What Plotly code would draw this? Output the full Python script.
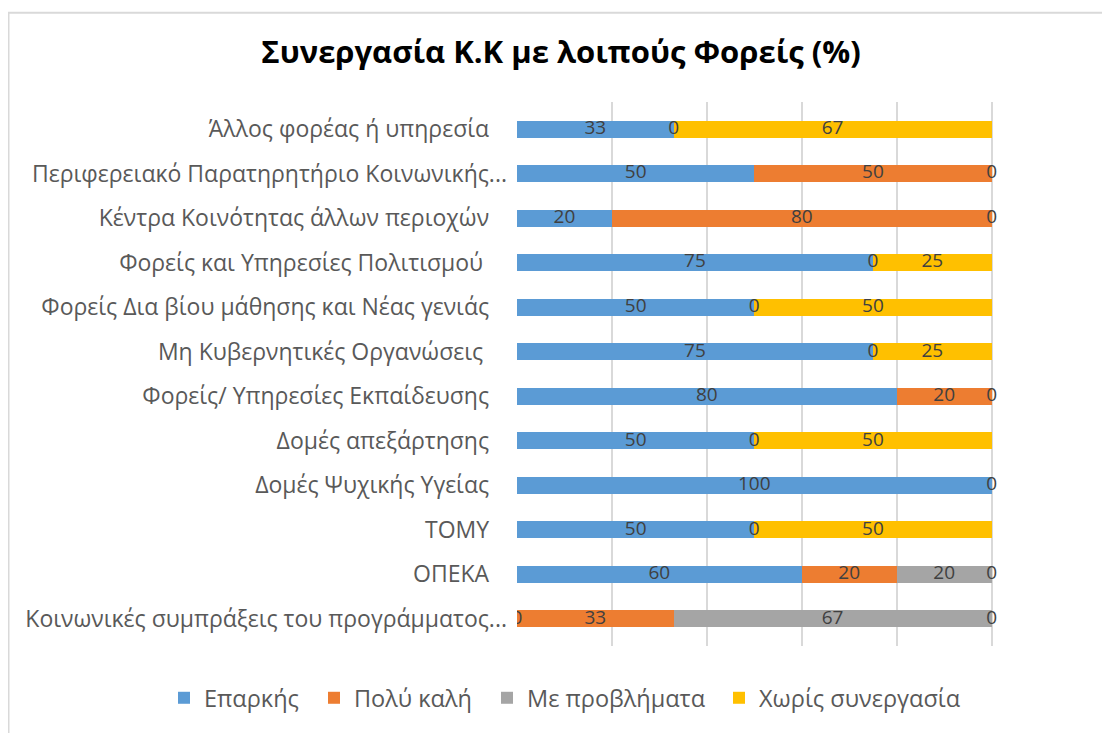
import plotly.graph_objects as go

categories = [
    "Άλλος φορέας ή υπηρεσία",
    "Περιφερειακό Παρατηρητήριο Κοινωνικής...",
    "Κέντρα Κοινότητας άλλων περιοχών",
    "Φορείς και Υπηρεσίες Πολιτισμού ",
    "Φορείς Δια βίου μάθησης και Νέας γενιάς",
    "Μη Κυβερνητικές Οργανώσεις ",
    "Φορείς/ Υπηρεσίες Εκπαίδευσης",
    "Δομές απεξάρτησης",
    "Δομές Ψυχικής Υγείας",
    "ΤΟΜΥ",
    "ΟΠΕΚΑ",
    "Κοινωνικές συμπράξεις του προγράμματος...",
]

series_names = ["Επαρκής", "Πολύ καλή", "Με προβλήματα", "Χωρίς συνεργασία"]
eparkis = [33, 50, 20, 75, 50, 75, 80, 50, 100, 50, 60, 0]
poly_kali = [0, 50, 80, 0, 0, 0, 20, 0, None, 0, 20, 33]
me_provlimata = [None, None, None, None, None, None, None, None, None, None, 20, 67]
xoris = [67, 0, 0, 25, 50, 25, 0, 50, 0, 50, 0, 0]
colors = ["#5B9BD5", "#ED7D31", "#A5A5A5", "#FFC000"]

series = [eparkis, poly_kali, me_provlimata, xoris]

# Excel lets truncated labels ("...") run further right than full ones;
# pad the full labels with non-breaking spaces to mimic that.
tick_text = []
for c in categories:
    if c.endswith("..."):
        tick_text.append(c)
    else:
        t = c.rstrip(" ")
        extra = len(c) - len(t)
        tick_text.append(t + "\u00a0" * (3 + extra))

# page is offset by the browser's default 8px body margin
OFF = 8
W, H = 1110 - OFF, 733 - OFF

legend_ids = ["legend", "legend2", "legend3", "legend4"]
legend_square_px = [178, 328, 501, 733]  # left edge of each legend square in the page

fig = go.Figure()
for name, vals, col, lid in zip(series_names, series, colors, legend_ids):
    fig.add_trace(go.Bar(
        y=categories, x=vals, name=name, orientation="h",
        marker=dict(color=col, line=dict(width=0)), width=0.39,
        hoverinfo="x+name", legend=lid,
    ))

# data labels (including zero-valued segments) at segment centres
lx, ly, lt = [], [], []
for i, cat in enumerate(categories):
    start = 0
    for vals in series:
        v = vals[i]
        if v is None:
            continue
        lx.append(start + v / 2)
        ly.append(cat)
        lt.append(str(v))
        start += v
fig.add_trace(go.Scatter(
    x=lx, y=ly, text=lt, mode="text", showlegend=False, hoverinfo="skip",
    textfont=dict(family="Open Sans", size=19, color="#404040"),
    textposition="middle center",
))

ml, mr, mt, mb = 517 - OFF, 1110 - 1087, 101.5 - OFF, 733 - 646.5
pw, ph = W - ml - mr, H - mt - mb

legend_common = dict(orientation="h", xref="container", yref="container",
                     xanchor="left", yanchor="middle", y=1 - (698 - OFF) / H,
                     font=dict(family="Open Sans", size=23.5, color="#595959"),
                     itemwidth=30, bgcolor="rgba(0,0,0,0)")
legends = {}
for lid, sx in zip(legend_ids, legend_square_px):
    legends[lid] = dict(legend_common, x=(sx - OFF - 14) / W)

fig.update_layout(
    barmode="stack",
    width=W, height=H,
    margin=dict(l=ml, r=mr, t=mt, b=mb, autoexpand=False),
    paper_bgcolor="white", plot_bgcolor="white",
    title=dict(text="<b>Συνεργασία Κ.Κ με λοιπούς Φορείς (%)</b>",
               x=(561 - OFF) / W, xanchor="center",
               y=1 - (52 - OFF) / H, yanchor="middle",
               xref="container", yref="container",
               font=dict(family="Open Sans", size=31, color="#000000")),
    xaxis=dict(range=[0, 120.1], dtick=20, showticklabels=False,
               showgrid=True, gridcolor="#D9D9D9", gridwidth=1.5,
               zeroline=False, showline=False, fixedrange=True,
               automargin=False),
    yaxis=dict(autorange="reversed", showgrid=False, showline=False,
               ticks="", ticklabelstandoff=9, automargin=False,
               tickmode="array", tickvals=categories, ticktext=tick_text,
               tickfont=dict(family="Open Sans", size=23, color="#595959")),
    shapes=[dict(type="rect", xref="paper", yref="paper",
                 x0=(8.5 - OFF - ml) / pw, x1=1.2,
                 y0=-0.3, y1=(mt + ph - (12 - OFF)) / ph,
                 line=dict(color="#D9D9D9", width=2), layer="below")],
    showlegend=True,
    **legends,
)

fig.write_html("out.html")
